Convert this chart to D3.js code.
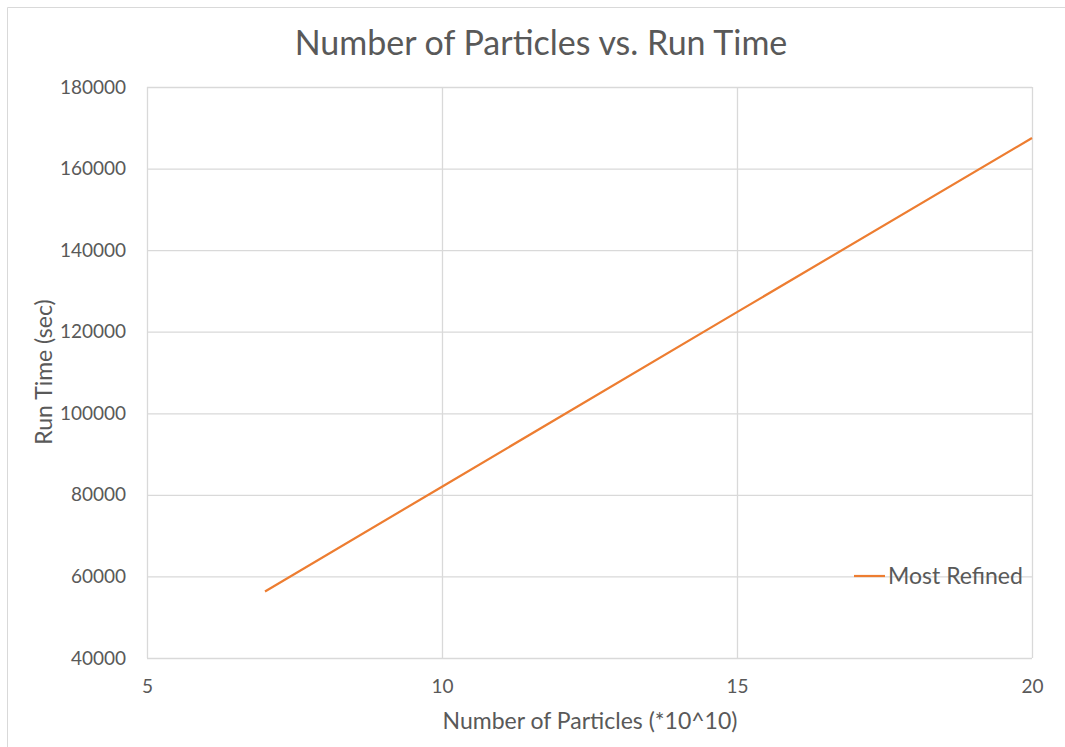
<!DOCTYPE html>
<html><head><meta charset="utf-8">
<script src="https://cdn.jsdelivr.net/npm/d3@7"></script>
<style>body{margin:0;background:#fff}svg{display:block}text{font-family:Lato,"Open Sans",sans-serif;fill:#595959}</style>
</head><body><svg id="c" width="1065" height="747"></svg>
<script>
const particles = [7, 10, 15, 20];
const runTime = [56300, 82000, 124800, 167500];
const xTicks = [5, 10, 15, 20];
const yTicks = [40000, 60000, 80000, 100000, 120000, 140000, 160000, 180000];
const seriesName = "Most Refined";

const svg = d3.select("#c");
const L = 147, R = 1032, T = 87, B = 658;
const x = d3.scaleLinear().domain([5, 20]).range([L, R]);
const y = d3.scaleLinear().domain([40000, 180000]).range([B, T]);

// outer border (top and left)
svg.append("path").attr("d", "M7.5,747V7.5H1065").attr("fill", "none").attr("stroke", "#d9d9d9").attr("stroke-width", 1);

// gridlines
const gx = svg.append("g").attr("transform", `translate(0,${B})`)
  .call(d3.axisBottom(x).tickValues(xTicks).tickSize(-(B - T)).tickFormat(d => d).tickPadding(22));
const gy = svg.append("g").attr("transform", `translate(${L},0)`)
  .call(d3.axisLeft(y).tickValues(yTicks).tickSize(-(R - L)).tickFormat(d => d).tickPadding(21));
[gx, gy].forEach(g => {
  g.select(".domain").remove();
  g.selectAll("line").attr("stroke", "#d9d9d9").attr("stroke-width", 1.3);
  g.selectAll("text").style("font-size", "19px").attr("fill", "#595959");
});

// line
svg.append("path").datum(particles.map((p, i) => [p, runTime[i]]))
  .attr("fill", "none").attr("stroke", "#ED7D31").attr("stroke-width", 2.2)
  .attr("d", d3.line().x(d => x(d[0])).y(d => y(d[1])));

// title
svg.append("text").attr("x", 541).attr("y", 55).attr("text-anchor", "middle")
  .style("font-size", "34px").text("Number of Particles vs. Run Time");

// axis titles
svg.append("text").attr("x", 590).attr("y", 729).attr("text-anchor", "middle")
  .style("font-size", "23px").text("Number of Particles (*10^10)");
svg.append("text").attr("transform", "translate(52,372) rotate(-90)").attr("text-anchor", "middle")
  .style("font-size", "23px").text("Run Time (sec)");

// legend
svg.append("line").attr("x1", 854).attr("x2", 885).attr("y1", 576).attr("y2", 576)
  .attr("stroke", "#ED7D31").attr("stroke-width", 2.2);
svg.append("text").attr("x", 888).attr("y", 584).style("font-size", "23px").text(seriesName);
</script></body></html>
